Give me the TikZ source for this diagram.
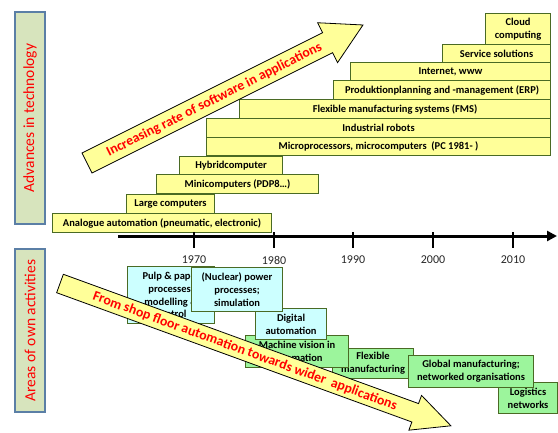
\documentclass[tikz,border=0pt]{standalone}
\usepackage{fontspec}
\setmainfont{Carlito}
\usetikzlibrary{arrows.meta}
\definecolor{yel}{HTML}{FFFF99}
\definecolor{bgreen}{HTML}{4A6A24}
\definecolor{cyanbox}{HTML}{CCFFFF}
\definecolor{greenbox}{HTML}{9CF59C}
\definecolor{labfill}{HTML}{D7E4BD}
\definecolor{labdraw}{HTML}{5B7FA6}
\definecolor{myred}{HTML}{FF0000}
\begin{document}
\begin{tikzpicture}[x=1pt,y=-1pt,
  box/.style={draw=bgreen, line width=1.1pt, inner sep=0pt, anchor=north west, align=center,
    font=\bfseries\fontsize{10.5}{12.7}\selectfont},
  tb/.style={box, fill=yel},
  cb/.style={box, fill=cyanbox},
  gb/.style={box, fill=greenbox},
  lab/.style={draw=labdraw, line width=1.3pt, fill=labfill, rotate=90, minimum height=30pt,
    inner sep=0pt, text=myred, font=\fontsize{15.5}{18}\selectfont},
  blk/.style={draw=black, line width=0.8pt, fill=yel},
  arrtext/.style={text=myred, font=\bfseries\fontsize{13.8}{15}\selectfont},
  year/.style={font=\fontsize{12}{14}\selectfont, text=black!85},
  tick/.style={line width=2.5pt}]
\useasboundingbox (0,0) rectangle (558,432);
\clip (0,0) rectangle (558,432);

% left labels
\node[lab, minimum width=212pt] (advl) at (30,118) {Advances in technology};
\node[lab, minimum width=163pt] (areal) at (30,330.5) {Areas of own activities};

% top boxes
\node[tb, minimum width=219pt, minimum height=19pt] (ana) at (52,213) {Analogue automation (pneumatic, electronic)};
\node[tb, minimum width=88pt, minimum height=19pt] (large) at (126,194) {Large computers};
\node[tb, minimum width=162pt, minimum height=19pt] (mini) at (156,174) {Minicomputers (PDP8…)};
\node[tb, minimum width=103pt, minimum height=18pt] (hyb) at (179,156) {Hybridcomputer};
\node[tb, minimum width=344pt, minimum height=18pt] (micro) at (206,137) {Microprocessors, microcomputers\ \ (PC 1981- )};
\node[tb, minimum width=344pt, minimum height=19pt] (robot) at (206,118) {Industrial robots};
\node[tb, minimum width=311pt, minimum height=19pt] (fms) at (239,99) {Flexible manufacturing systems (FMS)};
\node[tb, minimum width=217pt, minimum height=19pt] (erp) at (333,80) {Produktionplanning and -management (ERP)};
\node[tb, minimum width=200pt, minimum height=18pt] (inet) at (350,62) {Internet, www};
\node[tb, minimum width=108pt, minimum height=18pt] (serv) at (442,44) {Service solutions};
\node[tb, minimum width=65pt, minimum height=31pt] (cloud) at (485,13) {Cloud\\computing};

% rising arrow
\begin{scope}[shift={(87,163)}, rotate=26.57]
  \draw[blk] (0,-11.2) -- (269,-11.2) -- (269,-22.3) -- (308.6,0) -- (269,22.3) -- (269,11.2) -- (0,11.2) -- cycle;
  \node[arrtext, rotate=26.57] (uptext) at (142,0.5) {Increasing rate of software in applications};
\end{scope}

% time axis
\coordinate (ax0) at (118,236);
\coordinate (ax1) at (557,236);
\draw[line width=3pt, -{Triangle[length=10pt,width=10pt]}] (ax0) -- (ax1);
\foreach \x/\yr in {194/1970, 274/1980, 353/1990, 433/2000, 513/2010} {
  \draw[tick] (\x,232) -- (\x,248);
  \node[year] (y\yr) at (\x,260) {\yr};
}

% bottom boxes
\node[gb, minimum width=81pt, minimum height=30pt] (flex) at (332,348) {Flexible\\manufacturing};
\node[gb, minimum width=59pt, minimum height=31pt] (logi) at (498,382) {Logistics\\networks};
\node[gb, minimum width=125pt, minimum height=32pt] (glob) at (408,355) {Global manufacturing;\\networked organisations};
\node[gb, minimum width=103pt, minimum height=32pt] (mach) at (245,335) {Machine vision in\\automation};
\node[cb, minimum width=71pt, minimum height=31pt] (digi) at (255,308) {Digital\\automation};
\node[cb, minimum width=87pt, minimum height=57pt] (pulp) at (127,266) {Pulp \& paper\\processes;\\modelling \&\\control};
\node[cb, minimum width=91pt, minimum height=44pt] (nucl) at (191,267) {(Nuclear) power\\processes;\\simulation};

% falling arrow
\begin{scope}[shift={(60,283.5)}, rotate=-20]
  \draw[blk] (0,-9.8) -- (378,-9.8) -- (378,-18.5) -- (416,0) -- (378,18.5) -- (378,9.8) -- (0,9.8) -- cycle;
  \node[arrtext, rotate=-20] (downtext) at (197,0.5) {From shop floor automation towards wider\ \ applications};
\end{scope}
\end{tikzpicture}
\end{document}
